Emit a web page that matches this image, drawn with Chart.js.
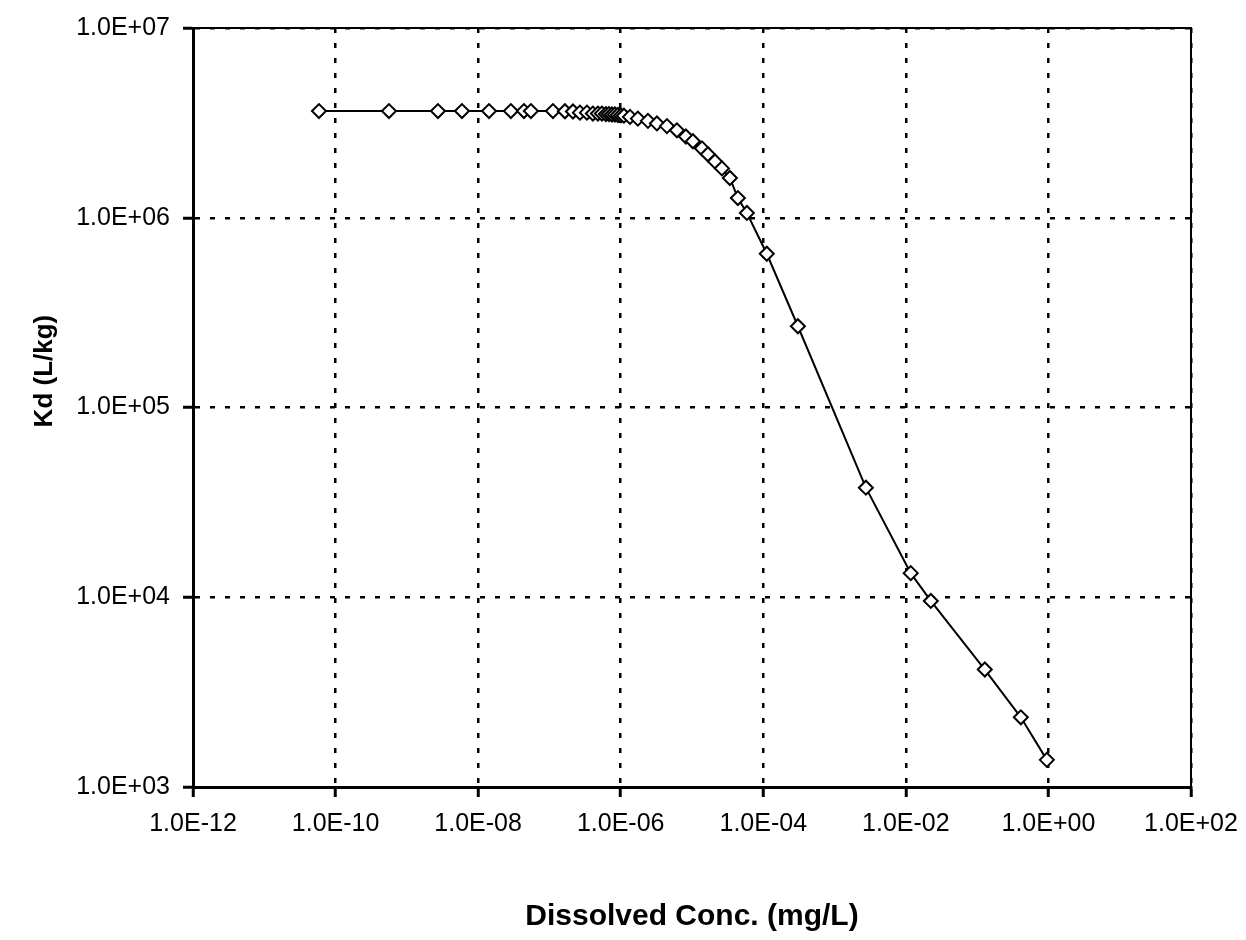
<!DOCTYPE html>
<html>
<head>
<meta charset="utf-8">
<script src="https://cdn.jsdelivr.net/npm/chart.js@4/dist/chart.umd.min.js"></script>
<style>
  html, body { margin: 0; padding: 0; background: #fff; }
  canvas { display: block; }
</style>
</head>
<body>
<canvas id="kdChart" width="1246" height="940"></canvas>
<script>
// dissolved concentration (mg/L)
const conc = [
  5.85e-11, 5.61e-10, 2.73e-9, 5.93e-9, 1.42e-8, 2.88e-8, 4.39e-8, 5.50e-8,
  1.12e-7, 1.65e-7, 2.14e-7, 2.68e-7, 3.36e-7, 4.07e-7, 4.79e-7, 5.45e-7,
  6.20e-7, 6.83e-7, 7.53e-7, 8.29e-7, 9.13e-7, 1.01e-6, 1.11e-6, 1.35e-6,
  1.74e-6, 2.41e-6, 3.22e-6, 4.45e-6, 6.14e-6, 8.21e-6, 1.03e-5, 1.38e-5,
  1.67e-5, 2.10e-5, 2.63e-5, 3.40e-5, 4.40e-5, 5.89e-5, 1.12e-4, 3.06e-4,
  2.75e-3, 1.17e-2, 2.24e-2, 0.128, 0.410, 0.95
];
// Kd (L/kg)
const kd = [
  3.65e6, 3.65e6, 3.65e6, 3.65e6, 3.65e6, 3.65e6, 3.65e6, 3.65e6,
  3.65e6, 3.64e6, 3.63e6, 3.58e6, 3.58e6, 3.54e6, 3.54e6, 3.54e6,
  3.52e6, 3.52e6, 3.50e6, 3.50e6, 3.48e6, 3.46e6, 3.45e6, 3.40e6,
  3.33e6, 3.24e6, 3.14e6, 3.04e6, 2.89e6, 2.68e6, 2.53e6, 2.32e6,
  2.16e6, 1.98e6, 1.82e6, 1.62e6, 1.27e6, 1.06e6, 6.46e5, 2.68e5,
  3.78e4, 1.34e4, 9.56e3, 4.16e3, 2.33e3, 1.39e3
];

const xTicks = [1e-12, 1e-10, 1e-8, 1e-6, 1e-4, 1e-2, 1e0, 1e2];
const xTickLabels = ['1.0E-12', '1.0E-10', '1.0E-08', '1.0E-06', '1.0E-04', '1.0E-02', '1.0E+00', '1.0E+02'];
const yTicks = [1e3, 1e4, 1e5, 1e6, 1e7];
const yTickLabels = ['1.0E+03', '1.0E+04', '1.0E+05', '1.0E+06', '1.0E+07'];
const yTitle = 'Kd (L/kg)';

const FONT = '"Liberation Sans", Arial, sans-serif';

// solid frame on top and right of plot area, plus the y title
// (sits a little above the axis middle in the original)
const framePlugin = {
  id: 'frame',
  afterDraw(chart) {
    const { ctx, chartArea: a } = chart;
    ctx.save();
    ctx.strokeStyle = '#000';
    ctx.lineWidth = 2;
    ctx.beginPath();
    ctx.moveTo(a.left, a.top);
    ctx.lineTo(a.right, a.top);
    ctx.lineTo(a.right, a.bottom);
    ctx.stroke();

    ctx.translate(45, a.top + (a.bottom - a.top) * 0.452);
    ctx.rotate(-Math.PI / 2);
    ctx.fillStyle = '#000';
    ctx.font = 'bold 26px ' + FONT;
    ctx.textAlign = 'center';
    ctx.textBaseline = 'middle';
    ctx.fillText(yTitle, 0, 0);
    ctx.restore();
  }
};

new Chart(document.getElementById('kdChart'), {
  type: 'scatter',
  data: {
    datasets: [{
      data: conc.map((c, i) => ({ x: c, y: kd[i] })),
      showLine: true,
      borderColor: '#000',
      borderWidth: 2,
      pointStyle: 'rectRot',
      pointRadius: 7,
      pointBackgroundColor: '#fff',
      pointBorderColor: '#000',
      pointBorderWidth: 2
    }]
  },
  options: {
    responsive: false,
    animation: false,
    layout: { padding: { top: 24, right: 55, left: 0, bottom: 0 } },
    plugins: {
      legend: { display: false },
      tooltip: { enabled: false }
    },
    scales: {
      x: {
        type: 'logarithmic',
        min: 1e-12,
        max: 1e2,
        afterBuildTicks: (s) => { s.ticks = xTicks.map(v => ({ value: v })); },
        afterFit: (s) => { s.height = 153; s.paddingRight = 0; s.paddingLeft = 0; },
        ticks: {
          autoSkip: false,
          maxRotation: 0,
          color: '#000',
          padding: 12,
          font: { family: FONT, size: 25 },
          callback: (v, i) => xTickLabels[i]
        },
        grid: {
          color: '#000',
          lineWidth: 2.5,
          tickLength: 10,
          tickWidth: 3,
          tickColor: '#000'
        },
        border: { display: true, color: '#000', width: 3, dash: [5, 10] },
        title: {
          display: true,
          text: 'Dissolved Conc. (mg/L)',
          color: '#000',
          font: { family: FONT, size: 30, weight: 'bold' },
          padding: { top: 0, bottom: 5 }
        }
      },
      y: {
        type: 'logarithmic',
        min: 1e3,
        max: 1e7,
        afterBuildTicks: (s) => { s.ticks = yTicks.map(v => ({ value: v })); },
        afterFit: (s) => { s.width = 193; },
        ticks: {
          autoSkip: false,
          color: '#000',
          padding: 13,
          font: { family: FONT, size: 25 },
          callback: (v, i) => yTickLabels[i]
        },
        grid: {
          color: '#000',
          lineWidth: 2.5,
          tickLength: 10,
          tickWidth: 3,
          tickColor: '#000'
        },
        border: { display: true, color: '#000', width: 3, dash: [5, 10] },
        title: { display: false }
      }
    }
  },
  plugins: [framePlugin]
});
</script>
</body>
</html>
